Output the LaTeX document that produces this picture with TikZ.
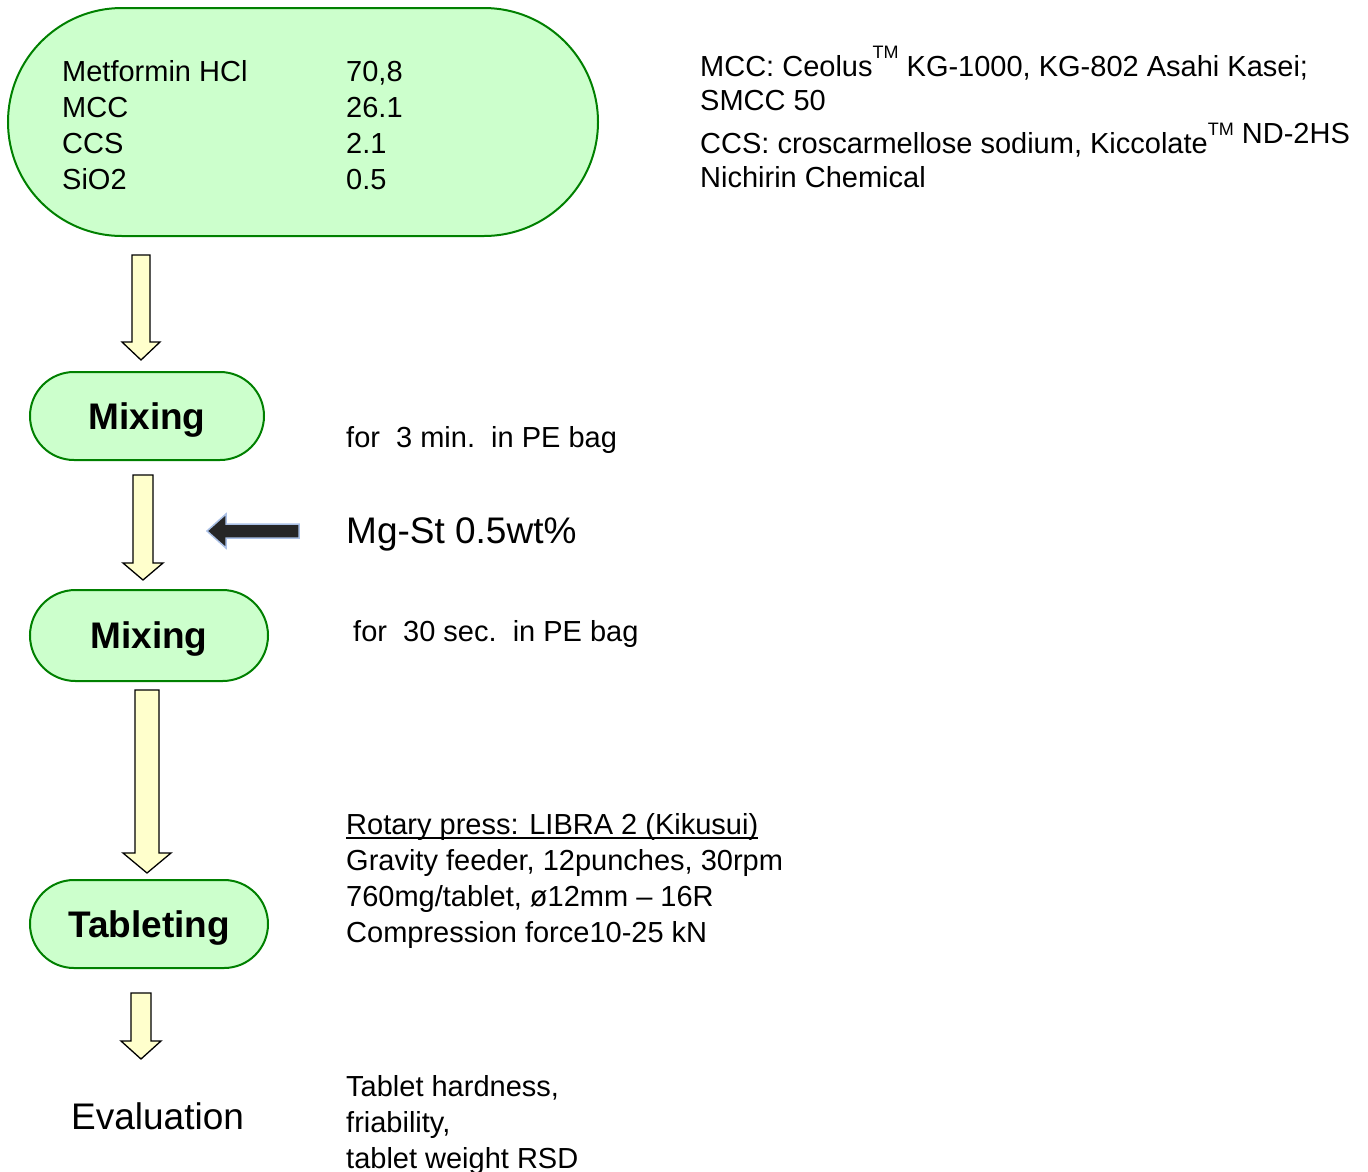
\documentclass[tikz,border=0pt]{standalone}
\usepackage{fontspec}
\setmainfont{Liberation Sans}
\usetikzlibrary{calc}
\definecolor{boxgreen}{RGB}{204,255,204}
\definecolor{linegreen}{RGB}{0,128,0}
\definecolor{arrowyellow}{RGB}{255,255,204}
\definecolor{darkfill}{RGB}{38,38,38}
\definecolor{glow}{RGB}{170,192,230}
\newcommand{\tm}{\raisebox{18pt}{\fontsize{18}{18}\selectfont TM}}
% block arrow: start, tip, half shaft, half head, head length
\newcommand{\flowarrow}[5]{%
  \draw[blockarrow] ($(#1)+(-#3,0)$) -- ($(#2)+(-#3,-#5)$) -- ($(#2)+(-#4,-#5)$) -- (#2)
    -- ($(#2)+(#4,-#5)$) -- ($(#2)+(#3,-#5)$) -- ($(#1)+(#3,0)$) -- cycle;}
\tikzset{
  stadium/.style={draw=linegreen, fill=boxgreen, line width=2pt, text height=26pt, text depth=0pt,
    font=\fontsize{37}{44}\selectfont\bfseries},
  blockarrow/.style={draw=black, fill=arrowyellow, line width=1.3pt, line join=miter},
  darkarrow/.style={draw=glow, fill=darkfill, line width=1.5pt},
  txt/.style={anchor=base west, inner sep=0pt, font=\fontsize{29}{36}\selectfont},
  bigtxt/.style={anchor=base west, inner sep=0pt, font=\fontsize{37}{44}\selectfont},
}

\begin{document}
\begin{tikzpicture}[x=1pt,y=-1pt]
            \useasboundingbox (0,0) rectangle (1368,1171);
            % starting blend
            \node[stadium, minimum width=590pt, minimum height=228pt, rounded corners=114pt] (blend) at (303,122) {};
            \foreach \ing/\amt [count=\i] in {Metformin HCl/{70,8}, MCC/26.1, CCS/2.1, SiO2/0.5}{
                \node[txt] (ing\i) at (62,45+36*\i) {\ing};
                \node[txt] (amt\i) at (346,45+36*\i) {\amt};
            }
            \node[txt] (note1) at (700,76) {MCC: Ceolus\tm\ KG-1000, KG-802 Asahi Kasei;};
            \node[txt] (note2) at (700,110) {SMCC 50};
            \node[txt] (note3) at (700,153) {CCS: croscarmellose sodium, Kiccolate\tm\ \raisebox{10pt}{ND-2HS}};
            \node[txt] (note4) at (700,187) {Nichirin Chemical};
            % process steps
            \node[stadium, minimum width=234pt, minimum height=88pt, rounded corners=44pt] (mixA) at (147,416) {Mixing};
            \node[stadium, minimum width=238pt, minimum height=91pt, rounded corners=45.5pt] (mixB) at (149,635.5) {Mixing};
            \node[stadium, minimum width=238pt, minimum height=88pt, rounded corners=44pt] (tablet) at (149,924) {Tableting};
            \node[bigtxt] (eval) at (71,1129) {Evaluation};
            % conditions
            \node[txt] (timeA) at (346,447) {for\ \ 3 min.\ \ in PE bag};
            \node[bigtxt] (mgst) at (346,543) {Mg-St 0.5wt\%};
            \node[txt] (timeB) at (353,641) {for\ \ 30 sec.\ \ in PE bag};
            \foreach \line [count=\i] in {{Rotary press: LIBRA 2 (Kikusui)}, {Gravity feeder, 12punches, 30rpm},
                {760mg/tablet, ø12mm – 16R}, {Compression force10-25 kN}}
                \node[txt] (press\i) at (346,798+36*\i) {\line};
            \draw[line width=1.8pt] ([yshift=-4pt]press1.base west) -- ([yshift=-4pt]press1.base east);
            \foreach \line [count=\i] in {{Tablet hardness,}, {friability,}, {tablet weight RSD}}
                \node[txt] (result\i) at (346,1060+36*\i) {\line};
            % arrows
            \coordinate (a1s) at (141,255); \coordinate (a1e) at (141,360);
            \coordinate (a2s) at (143,475); \coordinate (a2e) at (143,580);
            \coordinate (a3s) at (147,690); \coordinate (a3e) at (147,873);
            \coordinate (a4s) at (141,993); \coordinate (a4e) at (141,1059);
            \flowarrow{a1s}{a1e}{9}{19}{18}
            \flowarrow{a2s}{a2e}{10}{20}{17}
            \flowarrow{a3s}{a3e}{12}{24}{20}
            \flowarrow{a4s}{a4e}{10}{20}{18}
            \coordinate (mgtail) at (299,531); \coordinate (mgtip) at (207,531);
            \draw[darkarrow] ($(mgtail)+(0,-7)$) -- ($(mgtip)+(19,-7)$) -- ($(mgtip)+(19,-17)$) -- (mgtip)
                -- ($(mgtip)+(19,17)$) -- ($(mgtip)+(19,7)$) -- ($(mgtail)+(0,7)$) -- cycle;
        \end{tikzpicture}
\end{document}
